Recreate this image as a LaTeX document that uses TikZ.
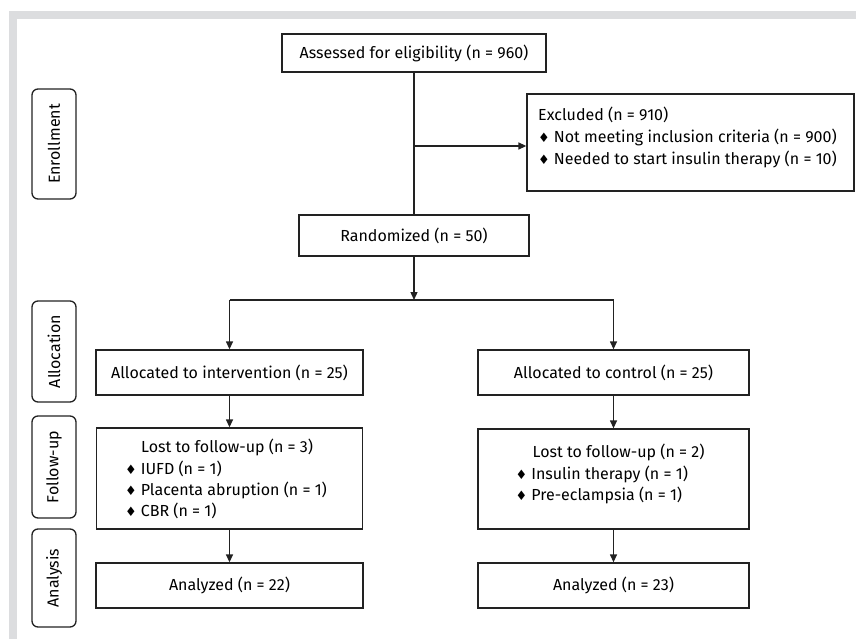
\documentclass[tikz,border=0pt]{standalone}
\usepackage{fontspec}
\setmainfont{Fira Sans}
\newfontfamily\dv{DejaVu Sans}
\usetikzlibrary{arrows.meta}
\definecolor{framegray}{HTML}{DCDDDF}
\definecolor{ink}{HTML}{222222}
\newcommand{\dmd}{{\dv\fontsize{13}{15}\selectfont ♦}\hspace{4pt}}
\begin{document}
\begin{tikzpicture}[x=1pt,y=-1pt,
  box/.style={draw=ink, line width=1.3pt, inner sep=0pt, font=\fontsize{16}{18}\selectfont},
  lab/.style={draw=ink, line width=1.3pt, rounded corners=6pt, inner sep=0pt, rotate=90, minimum height=44, font=\fontsize{16}{18}\selectfont},
  txt/.style={anchor=base west, inner sep=0pt, font=\fontsize{16}{18}\selectfont},
  ln/.style={draw=ink, line width=1.3pt},
  arr/.style={draw=ink, line width=1.3pt, -{Triangle[length=8pt,width=7pt]}}]
\useasboundingbox (0,0) rectangle (856,639);
% grey frame
\fill[framegray] (9,11) rectangle (856,19);
\fill[framegray] (9,11) rectangle (17,639);
% side labels
\node[lab, minimum width=110] (enr) at (54,144) {Enrollment};
\node[lab, minimum width=101] (all) at (54,351.5) {Allocation};
\node[lab, minimum width=102] (fol) at (54,467) {Follow-up};
\node[lab, minimum width=98] (ana) at (54,578) {Analysis};
% boxes
\node[box, minimum width=264, minimum height=38] (assess) at (414,53) {Assessed for eligibility (n = 960)};
\node[box, minimum width=327, minimum height=97] (excl) at (690.5,142.5) {};
\node[box, minimum width=230, minimum height=41] (rand) at (414,235.5) {Randomized (n = 50)};
\node[box, minimum width=267, minimum height=45] (allocL) at (229.5,372.5) {Allocated to intervention (n = 25)};
\node[box, minimum width=271, minimum height=45] (allocR) at (613.5,372.5) {Allocated to control (n = 25)};
\node[box, minimum width=266, minimum height=101] (lostL) at (229.5,478.5) {};
\node[box, minimum width=271, minimum height=100] (lostR) at (613.5,479) {};
\node[box, minimum width=267, minimum height=45] (anaL) at (229.5,585.5) {Analyzed (n = 22)};
\node[box, minimum width=271, minimum height=45] (anaR) at (613.5,585.5) {Analyzed (n = 23)};
% texts in excluded box
\node[txt] (ex1) at (538,121) {Excluded (n = 910)};
\node[txt] (ex2) at (538,143) {\dmd Not meeting inclusion criteria (n = 900)};
\node[txt] (ex3) at (538,165) {\dmd Needed to start insulin therapy (n = 10)};
% texts in lost boxes
\node[txt] (ll1) at (141,452.5) {Lost to follow-up (n = 3)};
\node[txt] (ll2) at (125,474) {\dmd IUFD (n = 1)};
\node[txt] (ll3) at (125,495) {\dmd Placenta abruption (n = 1)};
\node[txt] (ll4) at (125,516) {\dmd CBR (n = 1)};
\node[txt] (lr1) at (532.5,457.5) {Lost to follow-up (n = 2)};
\node[txt] (lr2) at (515.5,479) {\dmd Insulin therapy (n = 1)};
\node[txt] (lr3) at (515.5,500.5) {\dmd Pre-eclampsia (n = 1)};
% connectors
\coordinate (j1) at (414,146);
\coordinate (split) at (414,300);
\draw[ln] (assess.south) -- (rand.north);
\draw[arr] (j1) -- (j1 -| excl.west);
\draw[arr] (rand.south) -- (split);
\draw[ln] (allocL.north |- split) -- (allocR.north |- split);
\draw[arr] (allocL.north |- split) -- (allocL.north);
\draw[arr] (allocR.north |- split) -- (allocR.north);
\draw[arr] (allocL) -- (lostL);
\draw[arr] (allocR) -- (lostR);
\draw[arr] (lostL) -- (anaL);
\draw[arr] (lostR) -- (anaR);
\end{tikzpicture}
\end{document}
